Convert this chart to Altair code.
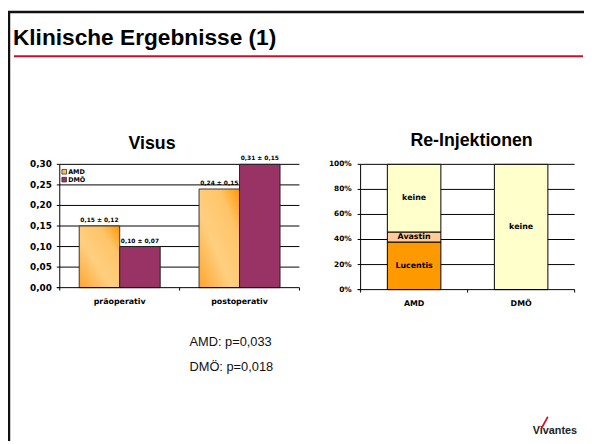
import altair as alt
import pandas as pd

# ---------------- data ----------------
phases = ["präoperativ", "postoperativ"]
groups = ["AMD", "DMÖ"]
visus_amd = [0.15, 0.24]
visus_dmo = [0.10, 0.31]
sd_amd = [0.12, 0.15]
sd_dmo = [0.07, 0.15]
visus_ticks = [0.00, 0.05, 0.10, 0.15, 0.20, 0.25, 0.30]

reinj_groups = ["AMD", "DMÖ"]
reinj_types = ["Lucentis", "Avastin", "keine"]
reinj_amd = [38, 8, 54]
reinj_dmo = [0, 0, 100]
reinj_ticks = [0, 20, 40, 60, 80, 100]

title_text = "Klinische Ergebnisse (1)"
visus_title = "Visus"
reinj_title = "Re-Injektionen"
pvalues = ["AMD: p=0,033", "DMÖ: p=0,018"]
logo_text = "Vivantes"

# ---------------- layout constants (chart pixels) ----------------
W, H = 584, 436
VL, VR, VT, VB = 52.5, 295.5, 155.5, 280.5
RL, RR, RT, RB = 357.5, 574.5, 155.5, 282.5
SMALL = "DejaVu Sans"
BIG = "Liberation Sans"
RED = "#c8102e"


def de(v):
    return f"{v:.2f}".replace(".", ",")


one = pd.DataFrame({"a": [1]})

# ---------------- Visus ----------------
rows = []
for i, p in enumerate(phases):
    rows.append({"phase": p, "group": "AMD", "value": visus_amd[i],
                 "label": f"{de(visus_amd[i])} ± {de(sd_amd[i])}"})
    rows.append({"phase": p, "group": "DMÖ", "value": visus_dmo[i],
                 "label": f"{de(visus_dmo[i])} ± {de(sd_dmo[i])}"})
dfv = pd.DataFrame(rows)
dft = pd.DataFrame({"tick": visus_ticks, "lab": [de(t) for t in visus_ticks]})
dfp = pd.DataFrame({"phase": phases})


def vx(**kw):
    return alt.X("phase:N", scale=alt.Scale(domain=phases, range=[VL, VR], paddingInner=0, paddingOuter=0),
                 axis=None, **kw)


def vxo():
    return alt.XOffset("group:N", scale=alt.Scale(domain=groups, paddingOuter=0.48, paddingInner=0))


def vy(field):
    return alt.Y(field, scale=alt.Scale(domain=[0, 0.3], range=[VB, VT], clamp=True, nice=False), axis=None)


amd_grad = alt.LinearGradient(
    gradient="linear", x1=0, y1=1, x2=1, y2=0,
    stops=[alt.GradientStop(color="#ffa42e", offset=0),
           alt.GradientStop(color="#ffcf80", offset=0.4),
           alt.GradientStop(color="#ffc468", offset=0.75),
           alt.GradientStop(color="#ff9900", offset=1)])

v_grid = alt.Chart(dft[dft.tick > 0]).mark_rule(color="#000", strokeWidth=1).encode(
    y=vy("tick:Q"), x=alt.value(VL), x2=alt.value(VR))
v_yticks = alt.Chart(dft).mark_rule(color="#000", strokeWidth=1).encode(
    y=vy("tick:Q"), x=alt.value(VL - 3), x2=alt.value(VL))
v_ylabs = alt.Chart(dft).mark_text(font=SMALL, fontWeight="bold", fontSize=9, align="right",
                                   baseline="middle", color="#000").encode(
    y=vy("tick:Q"), x=alt.value(VL - 8), text="lab:N")
v_bars_amd = alt.Chart(dfv[dfv.group == "AMD"]).mark_bar(fill=amd_grad, stroke="#333", strokeWidth=1).encode(
    x=vx(), xOffset=vxo(), y=vy("value:Q"))
v_bars_dmo = alt.Chart(dfv[dfv.group == "DMÖ"]).mark_bar(fill="#993366", stroke="#222", strokeWidth=1).encode(
    x=vx(), xOffset=vxo(), y=vy("value:Q"))
v_labels = alt.Chart(dfv).mark_text(font=SMALL, fontWeight="bold", fontSize=6, align="center",
                                    baseline="alphabetic", dy=-4, color="#000").encode(
    x=vx(), xOffset=vxo(), y=vy("value:Q"), text="label:N")
v_axis_y = alt.Chart(one).mark_rule(color="#000", strokeWidth=1).encode(
    x=alt.value(VL), y=alt.value(VT), y2=alt.value(VB))
v_axis_x = alt.Chart(one).mark_rule(color="#000", strokeWidth=1).encode(
    x=alt.value(VL - 3), x2=alt.value(VR), y=alt.value(VB))
v_xticks = alt.Chart(dfp).mark_rule(color="#000", strokeWidth=1).encode(
    x=vx(bandPosition=0), y=alt.value(VB), y2=alt.value(VB + 3))
v_xtick_end = alt.Chart(one).mark_rule(color="#000", strokeWidth=1).encode(
    x=alt.value(VR), y=alt.value(VB), y2=alt.value(VB + 3))
v_xlabs = alt.Chart(dfp).mark_text(font=SMALL, fontWeight="bold", fontSize=8, baseline="middle",
                                   color="#000").encode(x=vx(), y=alt.value(VB + 15), text="phase:N")
v_title = alt.Chart(pd.DataFrame({"t": [visus_title]})).mark_text(
    font=BIG, fontWeight="bold", fontSize=18, align="center", baseline="alphabetic", color="#000").encode(
    x=alt.value(146), y=alt.value(140), text="t:N")

visus = alt.layer(v_grid, v_bars_amd, v_bars_dmo, v_labels, v_yticks, v_ylabs, v_axis_y, v_axis_x,
                  v_xticks, v_xtick_end, v_xlabs, v_title)

# legend for Visus
dfl = pd.DataFrame({"group": groups})
ly = alt.Y("group:N", scale=alt.Scale(type="point", domain=groups, range=[163, 171], padding=0), axis=None)
leg_sq = alt.Chart(dfl).mark_square(size=22, stroke="#333", strokeWidth=0.8, opacity=1).encode(
    x=alt.value(57), y=ly,
    fill=alt.Fill("group:N", scale=alt.Scale(domain=groups, range=["#ffbf55", "#993366"]), legend=None))
leg_tx = alt.Chart(dfl).mark_text(font=SMALL, fontWeight="bold", fontSize=6.5, align="left",
                                  baseline="middle", color="#000").encode(x=alt.value(61), y=ly, text="group:N")
legend = alt.layer(leg_sq, leg_tx)

# ---------------- Re-Injektionen ----------------
rrows = []
for g, vals in zip(reinj_groups, [reinj_amd, reinj_dmo]):
    start = 0
    for t, v in zip(reinj_types, vals):
        rrows.append({"group": g, "type": t, "share": v, "start": start, "end": start + v,
                      "mid": start + v / 2})
        start += v
dfr = pd.DataFrame(rrows)
dfr = dfr[dfr.share > 0]
dfrt = pd.DataFrame({"tick": reinj_ticks, "lab": [f"{t}%" for t in reinj_ticks]})
dfg = pd.DataFrame({"group": reinj_groups})


def rx(**kw):
    return alt.X("group:N", scale=alt.Scale(domain=reinj_groups, range=[RL, RR], paddingInner=0,
                                            paddingOuter=0), axis=None, **kw)


def ry(field):
    return alt.Y(field, scale=alt.Scale(domain=[0, 100], range=[RB, RT], nice=False), axis=None)


r_grid = alt.Chart(dfrt[dfrt.tick > 0]).mark_rule(color="#000", strokeWidth=1).encode(
    y=ry("tick:Q"), x=alt.value(RL), x2=alt.value(RR))
r_yticks = alt.Chart(dfrt).mark_rule(color="#000", strokeWidth=1).encode(
    y=ry("tick:Q"), x=alt.value(RL - 3), x2=alt.value(RL))
r_ylabs = alt.Chart(dfrt).mark_text(font=SMALL, fontWeight="bold", fontSize=7.5, align="right",
                                    baseline="middle", color="#000").encode(
    y=ry("tick:Q"), x=alt.value(RL - 9), text="lab:N")
r_bars = alt.Chart(dfr).mark_bar(width=alt.RelativeBandSize(0.5), stroke="#000", strokeWidth=1).encode(
    x=rx(), y=ry("start:Q"), y2="end:Q",
    fill=alt.Fill("type:N", scale=alt.Scale(domain=reinj_types, range=["#ff9900", "#ffcc99", "#ffffcc"]),
                  legend=None))
r_labels = alt.Chart(dfr).mark_text(font=SMALL, fontWeight="bold", fontSize=8, baseline="middle",
                                    color="#000").encode(x=rx(), y=ry("mid:Q"), text="type:N")
r_axis_y = alt.Chart(one).mark_rule(color="#000", strokeWidth=1).encode(
    x=alt.value(RL), y=alt.value(RT), y2=alt.value(RB))
r_axis_x = alt.Chart(one).mark_rule(color="#000", strokeWidth=1).encode(
    x=alt.value(RL - 3), x2=alt.value(RR), y=alt.value(RB))
r_xticks = alt.Chart(dfg).mark_rule(color="#000", strokeWidth=1).encode(
    x=rx(bandPosition=0), y=alt.value(RB), y2=alt.value(RB + 3))
r_xtick_end = alt.Chart(one).mark_rule(color="#000", strokeWidth=1).encode(
    x=alt.value(RR), y=alt.value(RB), y2=alt.value(RB + 3))
r_xlabs = alt.Chart(dfg).mark_text(font=SMALL, fontWeight="bold", fontSize=8, baseline="middle",
                                   color="#000").encode(x=rx(), y=alt.value(RB + 15), text="group:N")
r_title = alt.Chart(pd.DataFrame({"t": [reinj_title]})).mark_text(
    font=BIG, fontWeight="bold", fontSize=18, align="center", baseline="alphabetic", color="#000").encode(
    x=alt.value(470), y=alt.value(137), text="t:N")

reinj = alt.layer(r_grid, r_bars, r_labels, r_yticks, r_ylabs, r_axis_y, r_axis_x, r_xticks, r_xtick_end,
                  r_xlabs, r_title)

# ---------------- slide decoration ----------------
frame_left = alt.Chart(one).mark_rule(color="#111", strokeWidth=2.5).encode(
    x=alt.value(1), y=alt.value(0), y2=alt.value(H))
frame_top = alt.Chart(one).mark_rule(color="#111", strokeWidth=2.5).encode(
    y=alt.value(1), x=alt.value(0), x2=alt.value(W))
red_line = alt.Chart(one).mark_rule(color=RED, strokeWidth=2).encode(
    y=alt.value(46), x=alt.value(6), x2=alt.value(W - 1))
title = alt.Chart(pd.DataFrame({"t": [title_text]})).mark_text(
    font=BIG, fontWeight="bold", fontSize=23, align="left", baseline="alphabetic", color="#000").encode(
    x=alt.value(5), y=alt.value(34), text="t:N")

dff = pd.DataFrame({"t": pvalues})
footer = alt.Chart(dff).mark_text(font=BIG, fontSize=13, align="left", baseline="alphabetic",
                                  color="#111").encode(
    x=alt.value(184),
    y=alt.Y("t:N", scale=alt.Scale(type="point", domain=pvalues, range=[340, 365], padding=0), axis=None),
    text="t:N")

logo = alt.Chart(pd.DataFrame({"t": [logo_text]})).mark_text(
    font=BIG, fontWeight="bold", fontSize=11, align="left", baseline="alphabetic", color="#222").encode(
    x=alt.value(532), y=alt.value(429), text="t:N")
swoosh = alt.Chart(one).mark_rule(color=RED, strokeWidth=1.8, strokeCap="round").encode(
    x=alt.value(541), x2=alt.value(547), y=alt.value(423), y2=alt.value(412))

chart = alt.layer(
    frame_left, frame_top, red_line, title, visus, legend, reinj, footer, logo, swoosh
).resolve_scale(
    x="independent", y="independent", fill="independent"
).properties(
    width=W, height=H, padding=0, autosize=alt.AutoSizeParams(type="none"), background="white"
).configure_view(stroke=None)

chart.save("out.html", embed_options={"renderer": "svg", "actions": False})
